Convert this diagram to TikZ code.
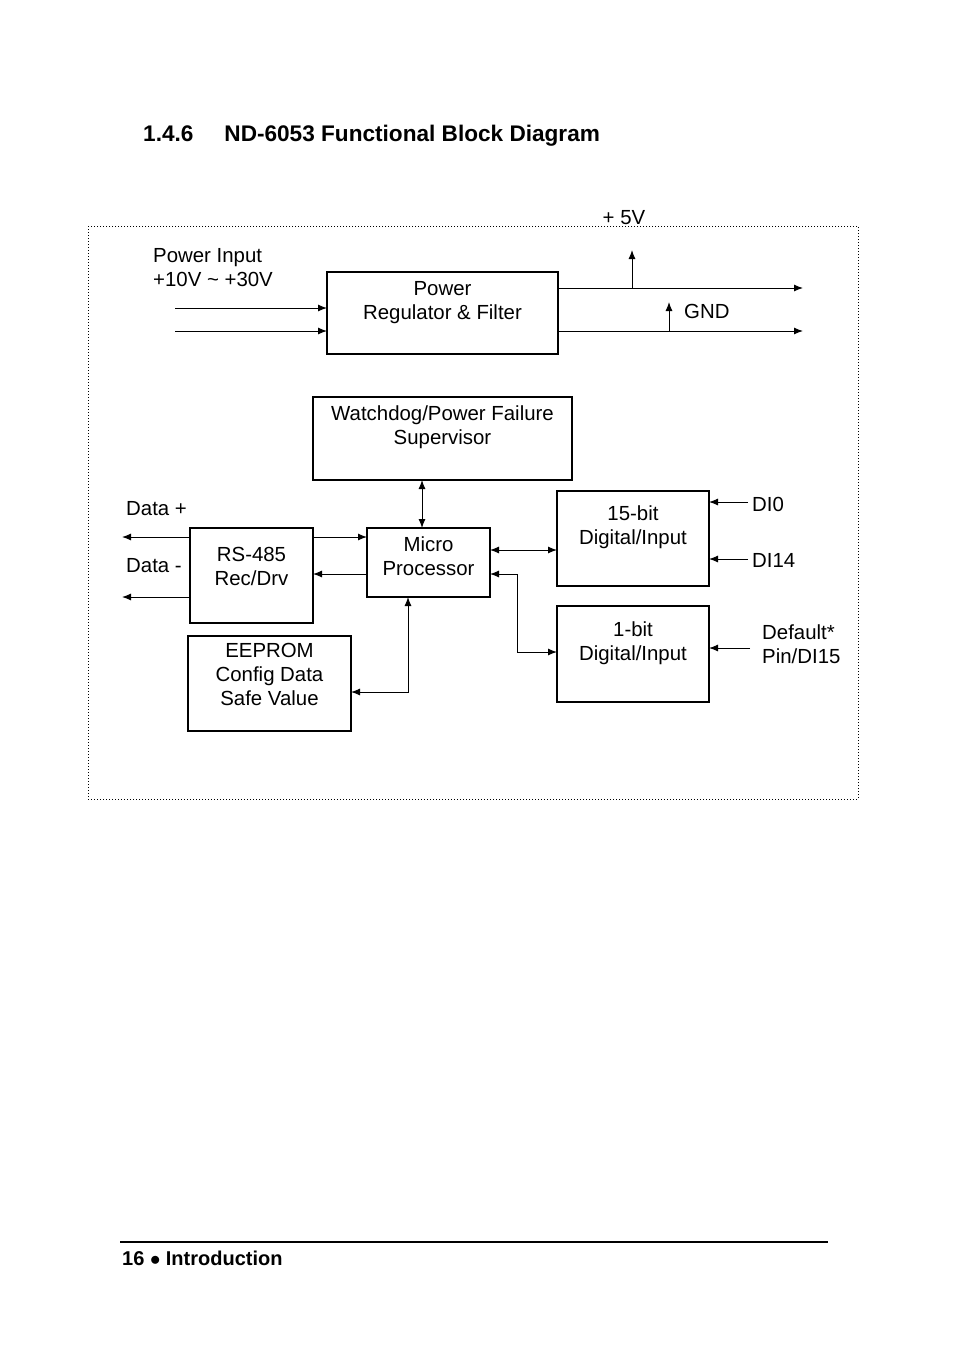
\documentclass[tikz,border=0pt]{standalone}
\usepackage{fontspec}
\setmainfont{Liberation Sans}
\usetikzlibrary{arrows.meta}
\begin{document}
\begin{tikzpicture}[x=1pt,y=-1pt,
  txt/.style={font=\fontsize{20.4}{24}\selectfont,inner sep=0pt,align=center},
  box/.style={draw,line width=1.3pt},
  ln/.style={line width=1pt},
  >={Latex[length=9pt,width=7pt]}]
\useasboundingbox (0,0) rectangle (954,1352);
\node[anchor=west,font=\fontsize{22.6}{26}\selectfont\bfseries,inner sep=0] (title) at (143,136) {1.4.6\hspace{31pt}ND-6053 Functional Block Diagram};
\draw[dotted,line width=1pt] (88,226) rectangle (858,799);
% boxes
\draw[box] (327,272) rectangle (558,354); \node[txt] (pw) at (442.5,303) {Power\\Regulator \& Filter};
\coordinate (pwin1) at (327,308); \coordinate (pwin2) at (327,331);
\draw[box] (313,397) rectangle (572,480); \node[txt] (wd) at (442.5,427) {Watchdog/Power Failure\\Supervisor};
\draw[box] (190,528) rectangle (313,623); \node[txt] (rs) at (251.5,566) {RS-485\\Rec/Drv};
\draw[box] (367,528) rectangle (490,597); \node[txt] (mp) at (428.5,556) {Micro\\Processor};
\draw[box] (557,491) rectangle (709,586); \node[txt] (d15) at (633,527) {15-bit\\Digital/Input};
\draw[box] (557,606) rectangle (709,702); \node[txt] (d1) at (633,643) {1-bit\\Digital/Input};
\draw[box] (188,636) rectangle (351,731); \node[txt] (ee) at (269.5,674) {EEPROM\\Config Data\\Safe Value};
% labels
\node[txt,align=left,anchor=north west] (pin) at (153,248) {Power Input\\+10V \textasciitilde{} +30V};
\node[txt] (v5) at (624,218) {+ 5V};
\node[txt,anchor=west] (gnd) at (684,311) {GND};
\node[txt,anchor=west] (dp) at (126,509) {Data +};
\node[txt,anchor=west] (dm) at (126,566) {Data -};
\node[txt,anchor=west] (di0) at (752,504) {DI0};
\node[txt,anchor=west] (di14) at (752,560) {DI14};
\node[txt,align=left,anchor=west] (def) at (762,644) {Default*\\Pin/DI15};
% connectors
\coordinate (a1) at (175,308); \coordinate (a2) at (175,331);
\draw[ln,->] (a1) -- (pwin1);
\draw[ln,->] (a2) -- (pwin2);
\coordinate (o1) at (558,288); \coordinate (o1e) at (803,288);
\coordinate (o2) at (558,331); \coordinate (o2e) at (803,331);
\draw[ln,->] (o1) -- (o1e);
\draw[ln,->] (o2) -- (o2e);
\coordinate (v5a) at (632,288); \coordinate (v5b) at (632,250);
\draw[ln,->] (v5a) -- (v5b);
\coordinate (ga) at (669,331); \coordinate (gb) at (669,302);
\draw[ln,->] (ga) -- (gb);
\coordinate (w1) at (422,480); \coordinate (w2) at (422,528);
\draw[ln,<->] (w1) -- (w2);
\coordinate (r1) at (190,537); \coordinate (r1e) at (122,537);
\coordinate (r2) at (190,597); \coordinate (r2e) at (122,597);
\draw[ln,->] (r1) -- (r1e);
\draw[ln,->] (r2) -- (r2e);
\coordinate (m1a) at (313,537); \coordinate (m1b) at (367,537);
\coordinate (m2a) at (367,574); \coordinate (m2b) at (313,574);
\draw[ln,->] (m1a) -- (m1b);
\draw[ln,->] (m2a) -- (m2b);
\coordinate (q1) at (490,550); \coordinate (q2) at (557,550);
\draw[ln,<->] (q1) -- (q2);
\coordinate (s1) at (490,574); \coordinate (s2) at (557,652);
\draw[ln,<->] (s1) -- (517,574) -- (517,652) -- (s2);
\coordinate (e1) at (408,597); \coordinate (e2) at (351,692);
\draw[ln,<->] (e1) -- (408,692) -- (e2);
\coordinate (i1) at (748,502); \coordinate (i1e) at (709,502);
\coordinate (i2) at (748,559); \coordinate (i2e) at (709,559);
\coordinate (i3) at (750,648); \coordinate (i3e) at (709,648);
\draw[ln,->] (i1) -- (i1e);
\draw[ln,->] (i2) -- (i2e);
\draw[ln,->] (i3) -- (i3e);
% footer
\coordinate (f1) at (120,1242); \coordinate (f2) at (828,1242);
\draw[line width=1.5pt] (f1) -- (f2);
\node[anchor=west,font=\fontsize{20}{24}\selectfont\bfseries,inner sep=0] (foot) at (122,1258) {16 $\bullet$ Introduction};
\end{tikzpicture}
\end{document}
